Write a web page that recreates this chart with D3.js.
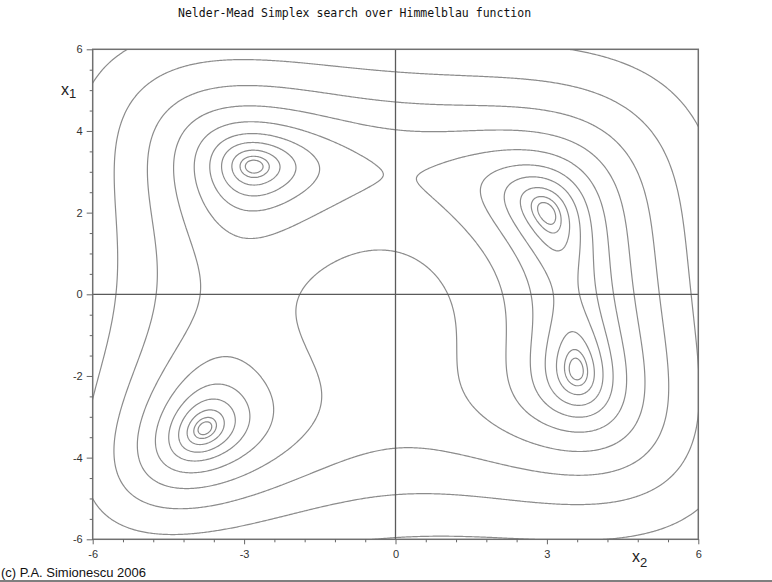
<!DOCTYPE html>
<html>
<head>
<script src="https://d3js.org/d3.v7.min.js"></script>
<style>
  body { margin: 0; background: #fff; }
  .tick text { font-family: "Liberation Sans", Arial, sans-serif; font-size: 11px; fill: #333; }
  .tick line { stroke: #666; }
</style>
</head>
<body>
<svg id="chart" width="772" height="582"></svg>
<script>
// contour levels (ring sizes around the minima, then roughly doubling)
const levels = [1, 2.7, 7.2, 16.5, 33, 66, 134, 270, 545, 1100];
const xMajor = [-6, -3, 0, 3, 6];
const yMajor = [-6, -4, -2, 0, 2, 4, 6];
const xMinor = [-5.4, -4.8, -4.2, -3.6, -2.4, -1.8, -1.2, -0.6, 0.6, 1.2, 1.8, 2.4, 3.6, 4.2, 4.8, 5.4];
const yMinor = [-5.5, -5, -4.5, -3.5, -3, -2.5, -1.5, -1, -0.5, 0.5, 1, 1.5, 2.5, 3, 3.5, 4.5, 5, 5.5];
const titleText = "Nelder-Mead Simplex search over Himmelblau function";
const creditText = "(c) P.A. Simionescu 2006";

// the surface being searched
function himmelblau(x, y) {
  return (x * x + y - 11) ** 2 + (x + y * y - 7) ** 2;
}

const svg = d3.select("#chart");
const pLeft = 92.7, pRight = 698.3, pTop = 49.3, pBottom = 539.3;

let xScale = d3.scaleLinear().domain([-6, 6]).range([pLeft, pRight]);
let yScale = d3.scaleLinear().domain([-6, 6]).range([pBottom, pTop]);

// sample a grid a bit wider than the plot so the edge rings fall outside the clip
const g0 = -6.3, step = 0.025;
const n = Math.round((6.3 - g0) / step) + 1;
const values = new Float64Array(n * n);
for (let j = 0; j < n; j++) {
  for (let i = 0; i < n; i++) {
    values[j * n + i] = himmelblau(g0 + i * step, g0 + j * step);
  }
}

const contours = d3.contours().size([n, n]).thresholds(levels)(values);

const proj = d3.geoTransform({
  point: function(px, py) {
    this.stream.point(xScale(g0 + (px - 0.5) * step), yScale(g0 + (py - 0.5) * step));
  }
});
const path = d3.geoPath(proj);

svg.append("clipPath").attr("id", "plotClip")
  .append("rect")
  .attr("x", pLeft).attr("y", pTop)
  .attr("width", pRight - pLeft).attr("height", pBottom - pTop);

svg.append("g")
  .attr("clip-path", "url(#plotClip)")
  .selectAll("path")
  .data(contours)
  .join("path")
  .attr("d", path)
  .attr("fill", "none")
  .attr("stroke", "#8c8c8c")
  .attr("stroke-width", 1.2);

// zero lines
svg.append("line")
  .attr("x1", xScale(0)).attr("x2", xScale(0))
  .attr("y1", pTop).attr("y2", pBottom)
  .attr("stroke", "#5a5a5a").attr("stroke-width", 1.3);
svg.append("line")
  .attr("x1", pLeft).attr("x2", pRight)
  .attr("y1", yScale(0)).attr("y2", yScale(0))
  .attr("stroke", "#5a5a5a").attr("stroke-width", 1.3);

// frame
svg.append("rect")
  .attr("x", pLeft).attr("y", pTop)
  .attr("width", pRight - pLeft).attr("height", pBottom - pTop)
  .attr("fill", "none").attr("stroke", "#707070").attr("stroke-width", 1.5);

// axes
const fmt = d => String(d);
svg.append("g").attr("transform", `translate(0,${pBottom})`)
  .call(d3.axisBottom(xScale).tickValues(xMajor).tickFormat(fmt).tickSize(5).tickPadding(6).tickSizeOuter(0))
  .call(g => g.select(".domain").remove());
svg.append("g").attr("transform", `translate(0,${pBottom})`)
  .call(d3.axisBottom(xScale).tickValues(xMinor).tickFormat("").tickSize(3).tickSizeOuter(0))
  .call(g => g.select(".domain").remove());
svg.append("g").attr("transform", `translate(${pLeft},0)`)
  .call(d3.axisLeft(yScale).tickValues(yMajor).tickFormat(fmt).tickSize(6).tickPadding(4).tickSizeOuter(0))
  .call(g => g.select(".domain").remove());
svg.append("g").attr("transform", `translate(${pLeft},0)`)
  .call(d3.axisLeft(yScale).tickValues(yMinor).tickFormat("").tickSize(3).tickSizeOuter(0))
  .call(g => g.select(".domain").remove());

// axis names
const x1 = svg.append("text")
  .attr("x", 61).attr("y", 95)
  .style("font-family", "'Liberation Sans', Arial, sans-serif")
  .style("font-size", "16px").style("fill", "#222");
x1.append("tspan").text("x");
x1.append("tspan").attr("dy", 3).style("font-size", "13px").text("1");

const x2 = svg.append("text")
  .attr("x", 632).attr("y", 562)
  .style("font-family", "'Liberation Sans', Arial, sans-serif")
  .style("font-size", "16px").style("fill", "#222");
x2.append("tspan").text("x");
x2.append("tspan").attr("dy", 5).style("font-size", "13px").text("2");

// title
svg.append("text")
  .attr("x", 178).attr("y", 17)
  .style("font-family", "'DejaVu Sans Mono', monospace")
  .style("font-size", "11.5px").style("fill", "#111")
  .text(titleText);

// credit
svg.append("text")
  .attr("x", 1).attr("y", 577)
  .style("font-family", "'Liberation Sans', Arial, sans-serif")
  .style("font-size", "13px").style("fill", "#111")
  .text(creditText);

svg.append("line")
  .attr("x1", 0).attr("x2", 772).attr("y1", 581).attr("y2", 581)
  .attr("stroke", "#555").attr("stroke-width", 1.5);
</script>
</body>
</html>
